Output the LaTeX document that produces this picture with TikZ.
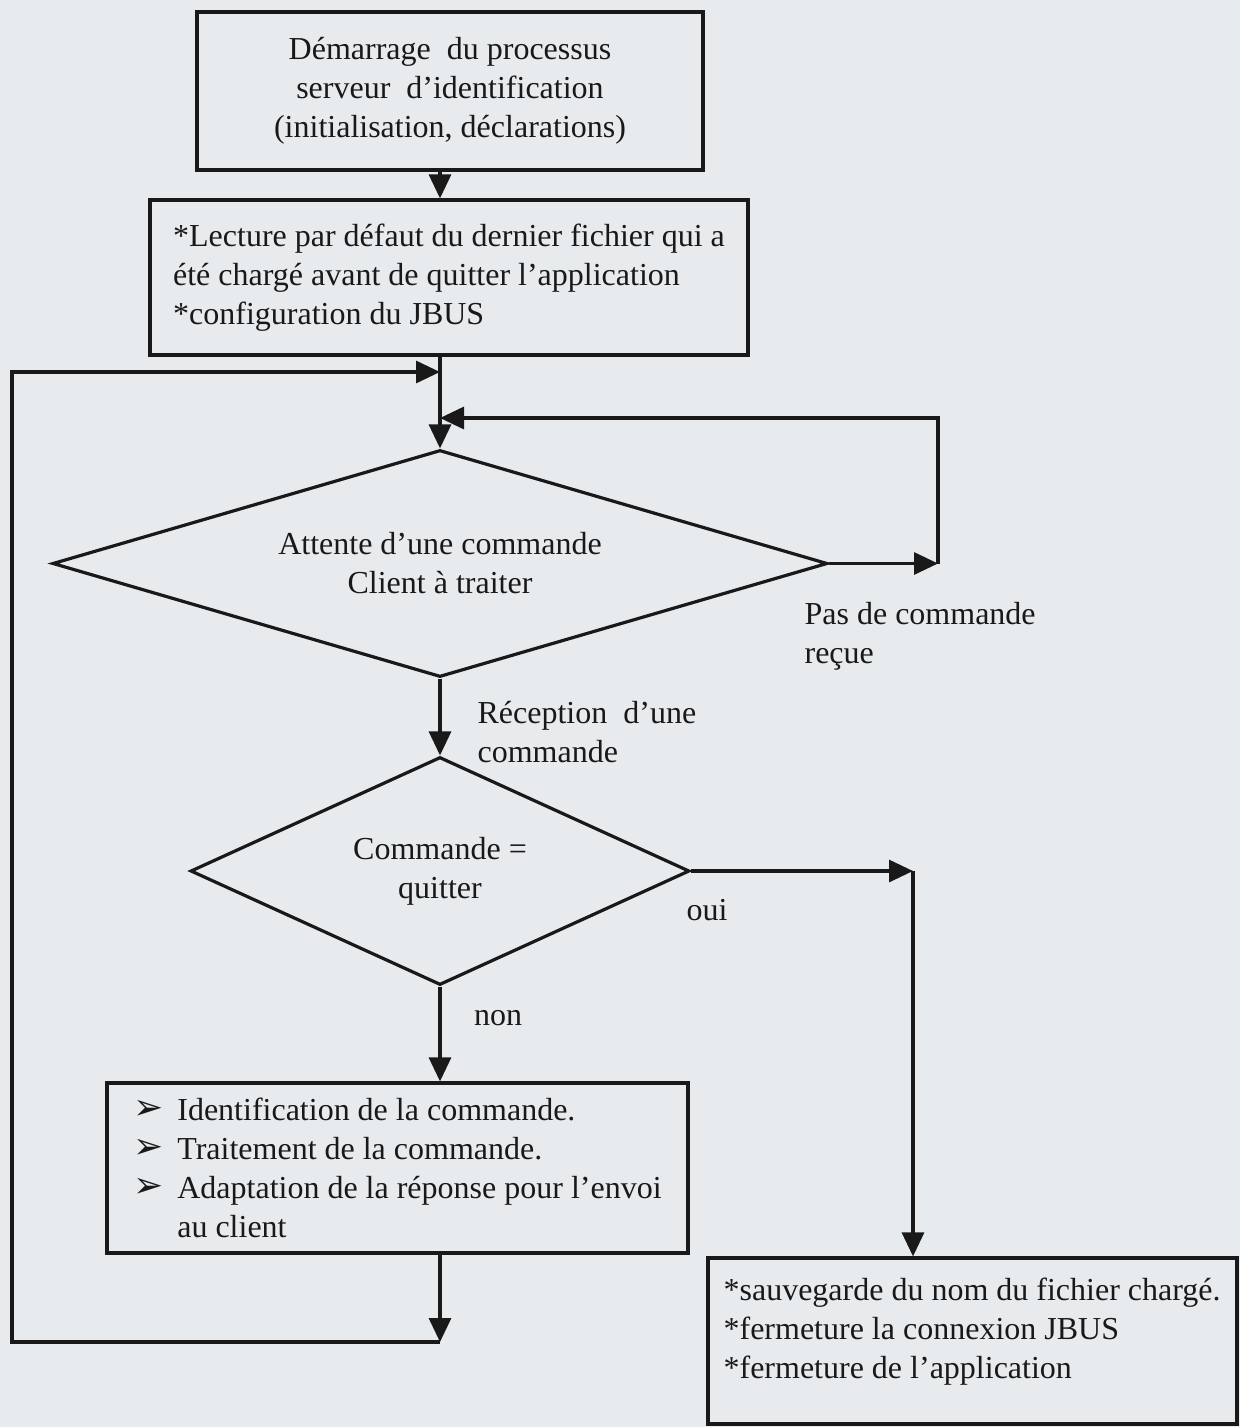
\documentclass[tikz,border=0pt]{standalone}
\usepackage{fontspec}
\setmainfont{Liberation Serif}
\newfontfamily\dejavu{DejaVu Sans}
\usetikzlibrary{arrows.meta,shapes.geometric,calc}
\definecolor{paper}{RGB}{232,235,238}
\definecolor{ink}{RGB}{25,25,25}
\newcommand{\bul}{\makebox[44pt][l]{\raisebox{1pt}{\dejavu\fontsize{36}{39}\selectfont ➢}}}
\begin{document}
\begin{tikzpicture}[x=1pt,y=-1pt,
  line width=3.2pt, line join=miter,
  every node/.style={font=\fontsize{32}{39}\selectfont, text=ink},
  box/.style={draw=ink, rectangle, inner sep=0pt},
  dec/.style={draw=ink, diamond, aspect=3, inner sep=0pt, align=center},
  lbl/.style={inner sep=0pt},
  arr/.style={draw=ink, -{Triangle[length=24pt,width=22pt]}}]
\useasboundingbox (0,0) rectangle (1240,1427);
\fill[paper] (0,0) rectangle (1240,1427);

% helper coordinates
\coordinate (colx) at (440,0);
\coordinate (rx) at (938,0);
\coordinate (ox) at (913,0);
\coordinate (mA) at (440,372);
\coordinate (mR) at (440,418);
\coordinate (mB) at (440,1342);
\coordinate (lbl) at (12,1342);
\coordinate (ltl) at (12,372);

% nodes
\node[box, minimum width=506, minimum height=158, align=center] (start) at (450,91)
  {Démarrage~ du processus\\serveur~ d’identification\\(initialisation, déclarations)};
\node[box, minimum width=598, minimum height=155, align=left] (init) at (449,277.5)
  {*Lecture par défaut du dernier fichier qui a\\été chargé avant de quitter l’application\\*configuration du JBUS};
\node[dec, minimum width=775, minimum height=227] (attente) at (440,563.5)
  {Attente d’une commande\\Client à traiter};
\node[dec, minimum width=499, minimum height=228] (quit) at (440,871)
  {Commande =\\quitter};
\node[box, minimum width=581, minimum height=170, align=left] (trait) at (397.5,1168)
  {\bul Identification de la commande.\\
   \bul Traitement de la commande.\\
   \bul Adaptation de la réponse pour l’envoi\\
   \hspace*{44pt}au client};
\node[box, minimum width=529, minimum height=166] (fin) at (972.5,1341) {};
\node[lbl, anchor=north west, align=left] (fintxt) at (722,1276)
  {*sauvegarde du nom du fichier chargé.\\*fermeture la connexion JBUS\\*fermeture de l’application};

% labels
\node[lbl, anchor=west, align=left] (pas) at (803,636) {Pas de commande\\reçue};
\node[lbl, anchor=west, align=left] (recep) at (476,732) {Réception~ d’une\\commande};
\node[lbl] (oui) at (707,910) {oui};
\node[lbl] (non) at (498,1018) {non};

% connectors
\draw[arr] (start.south -| colx) -- (init.north -| colx);
\draw[arr] (init.south -| colx) -- (attente.north);
\draw[arr] (trait.south -| colx) -- (mB);
\draw[arr] (mB) -- (lbl) -- (ltl) -- (mA);
\draw[arr] (attente.east) -- (attente.east -| rx);
\draw[arr] (attente.east -| rx) |- (mR);
\draw[arr] (attente.south) -- (quit.north);
\draw[arr] (quit.east) -- (quit.east -| ox);
\draw[arr] (quit.east -| ox) -- (fin.north -| ox);
\draw[arr] (quit.south) -- (trait.north -| colx);
\end{tikzpicture}
\end{document}
